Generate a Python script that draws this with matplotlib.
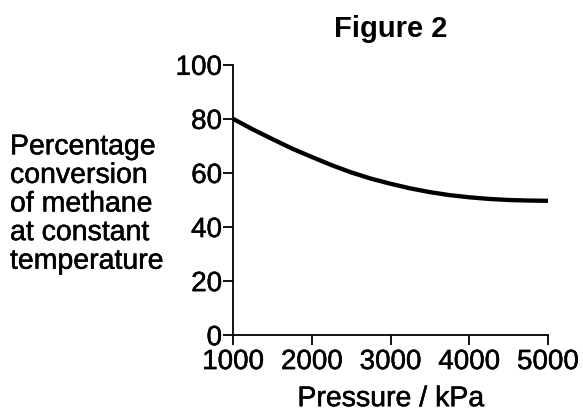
import matplotlib.pyplot as plt
import matplotlib.patheffects as pe

plt.rcParams['font.family'] = ['Liberation Sans', 'DejaVu Sans']

# Data
pressure = [1000, 1250, 1500, 1750, 2000, 2250, 2500, 2750, 3000,
            3250, 3500, 3750, 4000, 4250, 4500, 4750, 5000]
conversion = [80.0, 76.1, 72.5, 69.0, 65.9, 62.9, 60.2, 57.9, 56.0,
              54.3, 52.9, 51.8, 51.0, 50.4, 50.0, 49.8, 49.7]
x_ticks = [1000, 2000, 3000, 4000, 5000]
y_ticks = [0, 20, 40, 60, 80, 100]

# the original text is rendered a touch heavier
heavy = [pe.withStroke(linewidth=0.35, foreground='black')]

fig = plt.figure(figsize=(5.83, 4.14), dpi=100)
ax = fig.add_axes([0.4, 0.188, 0.54, 0.653])

ax.plot(pressure, conversion, color='black', lw=3.1,
        solid_capstyle='butt', solid_joinstyle='round')

ax.set_xlim(1000, 5000)
ax.set_ylim(0, 100)
ax.set_xticks(x_ticks)
ax.set_yticks(y_ticks)
ax.spines['top'].set_visible(False)
ax.spines['right'].set_visible(False)
for s in ['left', 'bottom']:
    ax.spines[s].set_linewidth(1.3)
ax.tick_params(direction='out', length=7, width=1.3, labelsize=20, pad=1)
ax.tick_params(axis='x', pad=3)
for lbl in ax.get_xticklabels() + ax.get_yticklabels():
    lbl.set_path_effects(heavy)

ax.set_xlabel('Pressure / kPa', fontsize=20.5, labelpad=8, path_effects=heavy)
ax.set_title('Figure 2', fontsize=21, fontweight='bold', pad=21)

fig.text(10 / 583, 1 - 205.5 / 414,
         'Percentage\nconversion\nof methane\nat constant\ntemperature',
         fontsize=20.5, ha='left', va='center', linespacing=1.13,
         path_effects=heavy)

fig.savefig('out.png', dpi=100)
